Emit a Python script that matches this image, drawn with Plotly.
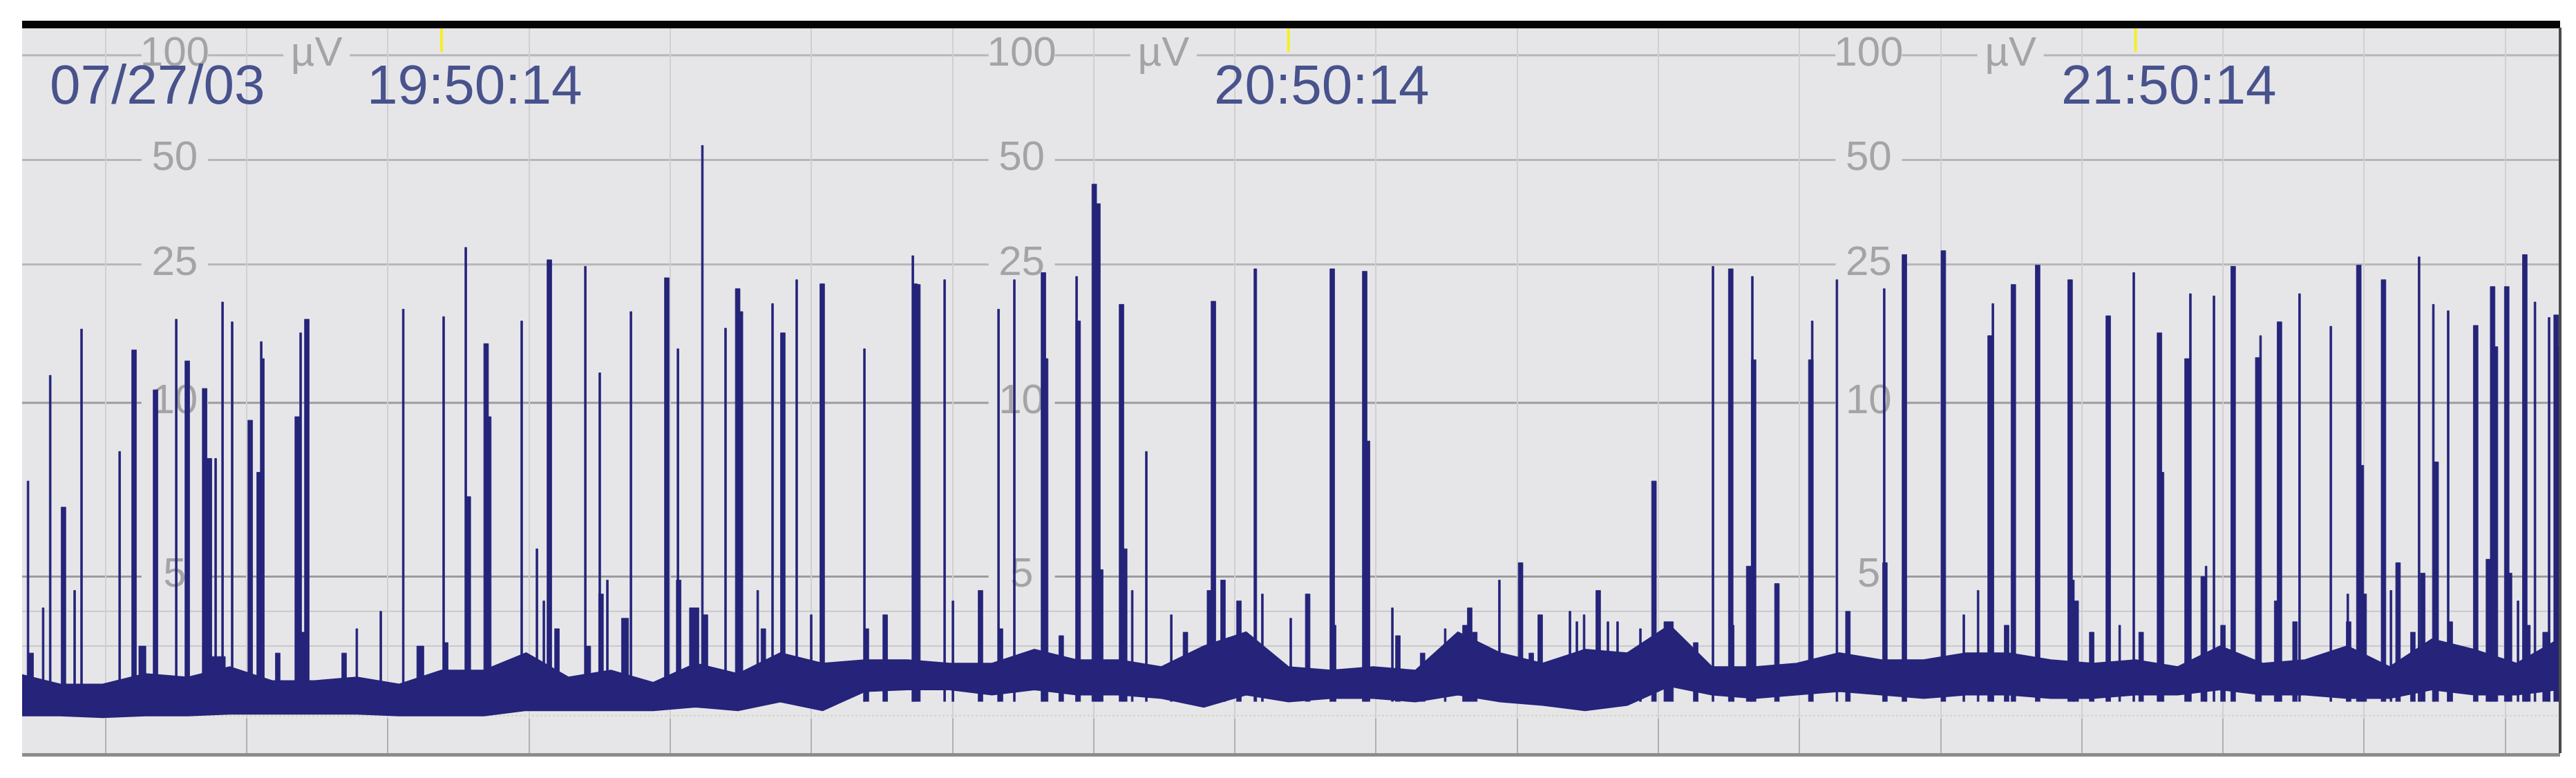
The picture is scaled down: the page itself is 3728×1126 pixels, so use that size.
import numpy as np
import plotly.graph_objects as go

# --- aEEG trace, values ---
# time = minutes since 19:20:14 (left edge), amplitude in µV

# background band (lower / upper edge of the dense trace), every 3 min
band_t = [0, 3, 6, 9, 12, 15, 18, 21, 24, 27, 30,
          33, 36, 39, 42, 45, 48, 51, 54, 57, 60,
          63, 66, 69, 72, 75, 78, 81, 84, 87, 90,
          93, 96, 99, 102, 105, 108, 111, 114, 117, 120,
          123, 126, 129, 132, 135, 138, 141, 144, 147, 150,
          153, 156, 159, 162, 165, 168, 171, 174, 177, 180]
band_hi = [2.2, 1.9, 1.9, 2.2, 2.1, 2.4, 2.0, 2.0, 2.1, 1.9, 2.3,
           2.3, 2.8, 2.1, 2.3, 1.95, 2.5, 2.2, 2.8, 2.5, 2.6,
           2.6, 2.5, 2.5, 2.9, 2.6, 2.6, 2.4, 3.0, 3.4, 2.4,
           2.3, 2.4, 2.3, 3.4, 2.8, 2.5, 2.9, 2.8, 3.6, 2.4,
           2.4, 2.5, 2.8, 2.6, 2.6, 2.8, 2.8, 2.6, 2.5, 2.6,
           2.4, 3.0, 2.5, 2.6, 3.0, 2.4, 3.2, 2.9, 2.5, 3.2]
band_lo = [1.0, 1.0, 0.95, 1.0, 1.0, 1.05, 1.05, 1.05, 1.05, 1.0, 1.0,
           1.0, 1.15, 1.15, 1.15, 1.15, 1.25, 1.15, 1.4, 1.15, 1.7,
           1.75, 1.75, 1.6, 1.75, 1.6, 1.6, 1.5, 1.25, 1.6, 1.4,
           1.5, 1.5, 1.4, 1.6, 1.4, 1.3, 1.15, 1.3, 1.85, 1.6,
           1.5, 1.6, 1.7, 1.6, 1.5, 1.6, 1.6, 1.5, 1.5, 1.6,
           1.6, 1.75, 1.6, 1.6, 1.5, 1.5, 1.75, 1.6, 1.6, 1.75]

# bursts: time (min), peak (µV), duration (s)
spike_t = [
    0.71, 0.93, 1.78, 2.28, 3.22, 4.01, 4.50, 7.20, 8.22, 8.81, 9.74, 11.21, 11.99,
    13.22, 13.56, 14.0, 14.05, 14.49, 15.17, 16.45, 17.08, 17.23, 17.38, 18.4, 19.78,
    20.02, 20.1, 20.46, 23.1, 24.0, 25.7, 27.29, 28.5, 30.15,
    30.3, 31.72, 31.9, 33.16, 33.35, 35.68, 36.76, 37.25, 37.64, 38.18, 40.19, 40.4,
    41.21, 41.3, 41.75, 43.0, 43.42, 45.96, 46.75, 46.8, 47.9, 48.48, 48.7, 50.12,
    50.98, 51.18, 52.4, 52.8, 53.45, 54.18, 55.16, 56.19, 56.97, 59.96, 60.1,
    61.43, 63.39, 63.55, 63.75, 65.64, 66.23, 68.18, 69.46, 69.6, 70.58, 72.64, 72.8,
    73.9, 74.99, 75.1, 76.24, 76.5, 76.7, 78.17, 78.4, 78.93, 79.93, 81.7, 82.7,
    84.4, 84.68, 85.36, 86.49, 87.65, 88.15, 90.16,
    91.36, 93.1, 93.2, 95.4, 95.6, 97.36, 97.75, 99.5, 101.1, 102.5, 102.84, 103.2,
    104.94, 106.44, 107.2, 107.83, 109.94, 110.43, 110.94, 111.94, 112.63, 113.31,
    114.93, 115.89, 116.93, 118.85, 120.07, 121.33, 121.4,
    122.6, 122.86, 122.95, 124.6, 127.0, 127.1, 128.85, 129.63, 132.2, 132.25,
    133.63, 136.39, 137.84, 138.85, 139.7, 139.9, 140.87, 141.35, 143.07, 145.37,
    145.5, 145.8, 146.9, 148.07, 148.88, 149.88, 150.4, 151.7, 151.85,
    153.65, 153.89, 154.8, 155.0, 155.56, 156.2, 156.92, 158.66, 158.86, 160.0,
    160.2, 161.3, 161.62, 163.84, 165.04, 165.1, 165.82, 166.0, 166.2, 167.57,
    168.1, 168.6, 169.65, 170.09, 170.35, 171.1, 171.3, 172.15, 172.3, 174.1,
    175.0, 175.3, 175.5, 176.3, 176.5, 177.1, 177.58, 177.8, 178.3, 179.1,
    179.3, 179.8, 179.85,
]
spike_uv = [
    7.75, 2.8, 4.1, 12.0, 7.0, 4.6, 16.3, 8.6, 14.2, 3.0, 10.9, 17.4, 13.2,
    11.0, 8.4, 8.4, 2.7, 19.5, 17.1, 9.5, 8.0, 15.0, 13.4, 2.8, 9.6,
    15.9, 3.4, 17.4, 2.8, 3.5, 4.0, 18.6, 3.0, 17.7,
    3.1, 28.0, 7.3, 14.8, 9.6, 17.2, 5.8, 4.3, 25.8, 3.5, 24.7, 3.0,
    12.2, 4.5, 4.9, 3.8, 18.3, 22.9, 14.3, 4.9, 4.1, 55.0, 3.9, 16.4,
    21.3, 18.3, 4.6, 3.5, 19.3, 15.9, 22.6, 3.9, 22.0, 14.3, 3.5,
    3.9, 26.5, 22.0, 21.9, 22.6, 4.3, 4.6, 18.6, 3.5, 22.6, 23.7, 13.4,
    3.3, 23.1, 17.2, 42.6, 37.4, 5.2, 19.2, 5.8, 4.6, 8.6, 3.9, 3.4,
    4.6, 19.6, 4.9, 4.3, 24.3, 4.5, 3.8,
    4.5, 24.3, 3.6, 23.9, 8.9, 4.1, 3.3, 2.8, 3.5, 3.6, 4.1, 3.4,
    4.9, 5.4, 2.8, 3.9, 4.0, 3.7, 3.9, 4.6, 3.7, 3.7,
    3.5, 7.75, 3.7, 3.1, 24.7, 24.3, 3.6,
    5.3, 23.1, 13.3, 4.8, 13.3, 17.2, 22.6, 4.0, 21.3, 5.4,
    26.7, 27.4, 3.9, 4.6, 15.6, 19.3, 3.6, 21.9, 24.9, 22.6,
    4.9, 4.3, 3.4, 17.8, 3.6, 23.7, 3.4, 15.9, 8.0,
    13.4, 20.6, 5.0, 5.3, 20.3, 3.6, 24.7, 13.5, 15.6, 4.3,
    17.1, 3.7, 20.6, 16.6, 4.5, 3.7, 24.9, 8.2, 4.5, 22.6,
    4.6, 5.4, 3.4, 26.3, 5.1, 19.2, 8.3, 18.4, 3.7, 16.7,
    5.5, 21.6, 14.5, 21.6, 5.1, 4.3, 26.7, 3.6, 19.5, 3.4,
    17.6, 17.9, 14.5,
]
spike_dur_s = [
    8, 20, 8, 8, 20, 8, 8, 8, 20, 30, 20, 8, 20,
    20, 20, 8, 76, 8, 8, 20, 20, 8, 8, 20, 20,
    8, 30, 20, 20, 8, 8, 8, 30, 8,
    20, 8, 20, 20, 20, 8, 8, 8, 20, 20, 8, 20,
    8, 20, 8, 30, 8, 20, 8, 20, 40, 8, 20, 8,
    20, 20, 8, 20, 8, 20, 8, 8, 20, 8, 20,
    20, 8, 20, 20, 8, 8, 20, 8, 20, 8, 20, 20,
    20, 8, 20, 20, 20, 20, 20, 20, 8, 8, 8, 20,
    20, 20, 20, 20, 12, 8, 8,
    20, 20, 20, 20, 20, 8, 20, 20, 8, 20, 20, 20,
    8, 20, 20, 20, 8, 8, 8, 20, 8, 8,
    8, 20, 40, 20, 8, 20, 20,
    20, 8, 20, 20, 20, 8, 8, 20, 8, 20,
    20, 20, 8, 8, 20, 8, 20, 20, 20, 20,
    20, 20, 20, 20, 8, 8, 20, 20, 20,
    20, 8, 20, 8, 8, 20, 20, 20, 8, 20,
    20, 20, 8, 8, 8, 20, 20, 20, 20, 20,
    8, 20, 20, 8, 20, 8, 20, 8, 20, 20,
    20, 20, 20, 20, 20, 8, 20, 20, 8, 30,
    8, 20, 20,
]

hour_marks_t = [30, 90, 150]
hour_labels = ["19:50:14", "20:50:14", "21:50:14"]
date_label = "07/27/03"
scale_uv = [100, 50, 25, 10, 5]

# --- styles ---
NAVY = "#25247a"
BG = "#e6e6e9"
LABEL_GREY = "#a4a4a6"
TIME_BLUE = "#48528c"
FONT = "Liberation Sans, Arial, sans-serif"
BASE_UV = 1.4


def to_axis(v):
    """aEEG semi-log scale: linear 0-10 µV, log 10-100 µV (same height)."""
    v = np.asarray(v, dtype=float)
    return np.where(v <= 10, v / 10.0, 1 + np.log10(np.maximum(v, 10) / 10.0))


fig = go.Figure()

# scale labels (drawn first so the bursts pass over them)
lab_x, lab_y, lab_txt = [], [], []
for h in hour_marks_t:
    for v in scale_uv:
        lab_x.append(h - 18.9)
        lab_y.append(float(to_axis(v)))
        lab_txt.append(str(v))
    lab_x.append(h - 8.85)
    lab_y.append(float(to_axis(100)))
    lab_txt.append("µV")
fig.add_trace(go.Scatter(
    x=lab_x, y=lab_y, text=lab_txt, mode="markers+text",
    marker=dict(symbol="square", size=96, color=BG),
    textposition="middle center",
    textfont=dict(size=60, color=LABEL_GREY, family=FONT),
    hoverinfo="skip", showlegend=False,
))

# bursts as thin filled rectangles
base_ax = float(to_axis(BASE_UV))
sx, sy = [], []
for t, uv, d in zip(spike_t, spike_uv, spike_dur_s):
    w = d / 60.0 / 2.0
    top = float(to_axis(uv))
    sx += [t - w, t - w, t + w, t + w, None]
    sy += [base_ax, top, top, base_ax, None]
fig.add_trace(go.Scatter(
    x=sx, y=sy, mode="lines", fill="toself", fillcolor=NAVY,
    line=dict(color=NAVY, width=0.8), hoverinfo="skip", showlegend=False,
))

# background band
fig.add_trace(go.Scatter(
    x=band_t + band_t[::-1],
    y=list(to_axis(band_hi)) + list(to_axis(band_lo))[::-1],
    mode="lines", fill="toself", fillcolor=NAVY,
    line=dict(color=NAVY, width=2), hoverinfo="skip", showlegend=False,
))

# horizontal scale lines
shapes = []
grid_styles = {
    100: ("#b6b6b8", 3, "solid"), 50: ("#b6b6b8", 3, "solid"), 25: ("#b6b6b8", 3, "solid"),
    10: ("#9c9c9e", 3, "solid"), 5: ("#9c9c9e", 3, "solid"),
    4: ("#c9c9cc", 2, "solid"), 3: ("#c9c9cc", 2, "solid"), 1: ("#d4d4c0", 2, "dot"),
}
for v, (c, wdt, dash) in grid_styles.items():
    yv = float(to_axis(v))
    shapes.append(dict(type="line", xref="paper", x0=0, x1=1, yref="y", y0=yv, y1=yv,
                       line=dict(color=c, width=wdt, dash=dash), layer="below"))

Y_TOP = 2.0795
# yellow hour markers
for h in hour_marks_t:
    shapes.append(dict(type="line", xref="x", x0=h, x1=h, yref="y", y0=2.01, y1=Y_TOP,
                       line=dict(color="#f4f020", width=4)))
# frame: black top bar, dark right edge
shapes.append(dict(type="rect", xref="paper", x0=0, x1=1, yref="paper", y0=0.999, y1=1.0095,
                   fillcolor="#050505", line=dict(width=0)))
shapes.append(dict(type="line", xref="paper", x0=1, x1=1, yref="paper", y0=0, y1=1,
                   line=dict(color="#4a4a4a", width=4)))

annotations = [dict(x=9.85, y=1.915, xref="x", yref="y", text=date_label, showarrow=False,
                    font=dict(size=80, color=TIME_BLUE, family=FONT))]
for h, lab in zip(hour_marks_t, hour_labels):
    annotations.append(dict(x=h + 2.35, y=1.915, xref="x", yref="y", text=lab, showarrow=False,
                            font=dict(size=80, color=TIME_BLUE, family=FONT)))

fig.update_layout(
    width=3728, height=1126,
    margin=dict(l=24, r=31, t=32, b=44),
    paper_bgcolor="white", plot_bgcolor=BG,
    showlegend=False,
    shapes=shapes, annotations=annotations,
    xaxis=dict(range=[0.29, 180.08], tick0=6.2, dtick=10, showticklabels=False,
               showgrid=True, gridcolor="#d0d0d3", gridwidth=2, zeroline=False,
               ticks="inside", ticklen=50, tickwidth=2, tickcolor="#b0b0b2",
               showline=True, linecolor="#8c8c8c", linewidth=5),
    yaxis=dict(range=[-0.008, Y_TOP], showticklabels=False, showgrid=False,
               zeroline=False, ticks=""),
)

fig.write_html("out.html")
